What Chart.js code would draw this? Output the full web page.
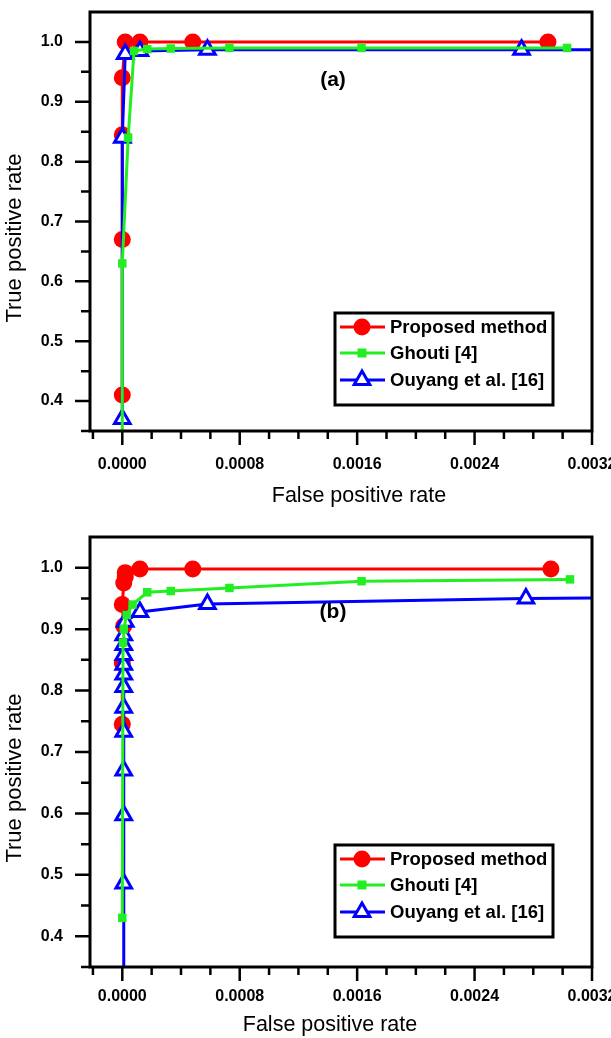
<!DOCTYPE html>
<html>
<head>
<meta charset="utf-8">
<script src="https://cdn.jsdelivr.net/npm/chart.js@4.4.1/dist/chart.umd.min.js"></script>
<style>
  body { margin: 0; background: #fff; }
  .panel { position: absolute; left: 0; width: 611px; }
</style>
</head>
<body>
<div class="panel" style="top:0;height:509px"><canvas id="chartA" width="611" height="509"></canvas></div>
<div class="panel" style="top:509px;height:529px"><canvas id="chartB" width="611" height="529"></canvas></div>
<script>
// series names and axis titles
var seriesNames = ['Proposed method', 'Ghouti [4]', 'Ouyang et al. [16]'];
var xTitle = 'False positive rate';
var yTitle = 'True positive rate';

// panel (a)
var aProposedX = [0, 0, 0, 0, 0.00002, 0.00012, 0.00048, 0.0029];
var aProposedY = [0.41, 0.67, 0.845, 0.94, 1.0, 1.0, 1.0, 1.0];
var aGhoutiX = [0, 0, 0.00004, 0.00008, 0.00017, 0.00033, 0.00073, 0.00163, 0.00303];
var aGhoutiY = [0.30, 0.63, 0.84, 0.985, 0.988, 0.989, 0.99, 0.99, 0.99];
var aOuyangX = [0, 0, 0.00002, 0.00012, 0.00058, 0.00272, 0.0036];
var aOuyangY = [0.37, 0.84, 0.98, 0.985, 0.987, 0.987, 0.987];

// panel (b)
var bProposedX = [0, 0, 0.00001, 0, 0.00001, 0.00002, 0.00002, 0.00012, 0.00048, 0.00292];
var bProposedY = [0.745, 0.845, 0.905, 0.94, 0.975, 0.985, 0.992, 0.998, 0.998, 0.998];
var bGhoutiX = [0, 0.000005, 0.00001, 0.00003, 0.00007, 0.00017, 0.00033, 0.00073, 0.00163, 0.00305];
var bGhoutiY = [0.43, 0.878, 0.9, 0.923, 0.94, 0.96, 0.962, 0.967, 0.978, 0.981];
var bOuyangX = [0.00001, 0.00001, 0.00001, 0.00001, 0.00001, 0.00001, 0.00001, 0.00001, 0.00001, 0.00001, 0.00001, 0.00001, 0.00002, 0.00012, 0.00058, 0.00275, 0.0036];
var bOuyangY = [0.30, 0.486, 0.597, 0.67, 0.733, 0.772, 0.806, 0.826, 0.842, 0.858, 0.874, 0.89, 0.912, 0.928, 0.941, 0.95, 0.951];

// axes
var xTickValues = [0, 0.0008, 0.0016, 0.0024, 0.0032];
var yTickValues = [0.4, 0.5, 0.6, 0.7, 0.8, 0.9, 1.0];

var FONT = 'Arial, "Liberation Sans", sans-serif';
var RED = '#ff0000', GREEN = '#22ee22', BLUE = '#0000ff';

function pts(xs, ys) {
    return xs.map(function (x, i) { return { x: x, y: ys[i] }; });
}

function drawMarker(ctx, style, x, y, color) {
    ctx.save();
    ctx.beginPath();
    if (style === 'circle') {
        ctx.fillStyle = color;
        ctx.arc(x, y, 8.5, 0, Math.PI * 2);
        ctx.fill();
    } else if (style === 'rect') {
        ctx.fillStyle = color;
        ctx.fillRect(x - 4.5, y - 4.5, 9, 9);
    } else {
        var r = 9;
        ctx.moveTo(x, y - r);
        ctx.lineTo(x + r * 0.866, y + r * 0.5);
        ctx.lineTo(x - r * 0.866, y + r * 0.5);
        ctx.closePath();
        ctx.fillStyle = '#fff';
        ctx.fill();
        ctx.lineWidth = 3;
        ctx.strokeStyle = color;
        ctx.stroke();
    }
    ctx.restore();
}

// frame, outward ticks, axis titles, legend box, panel letter
var decorations = {
    id: 'decorations',
    afterDraw: function (chart, args, opts) {
        var ctx = chart.ctx, a = chart.chartArea;
        var xs = chart.scales.x, ys = chart.scales.y;
        ctx.save();
        ctx.strokeStyle = '#000';
        ctx.lineWidth = 3;
        ctx.strokeRect(a.left, a.top, a.right - a.left, a.bottom - a.top);

        ctx.lineWidth = 2.5;
        ctx.beginPath();
        var i, px, len;
        for (i = -1; i <= 16; i++) {
            px = xs.getPixelForValue(i * 0.0002);
            len = (i % 4 === 0) ? 14 : 8;
            ctx.moveTo(px, a.bottom);
            ctx.lineTo(px, a.bottom + len);
        }
        for (i = 7; i <= 20; i++) {
            px = ys.getPixelForValue(i * 0.05);
            len = (i % 2 === 0) ? 15 : 9;
            ctx.moveTo(a.left, px);
            ctx.lineTo(a.left - len, px);
        }
        ctx.stroke();

        ctx.fillStyle = '#000';
        ctx.textAlign = 'center';
        ctx.textBaseline = 'middle';

        // axis titles
        ctx.font = '21.5px ' + FONT;
        ctx.fillText(xTitle, opts.xTitleX, opts.xTitleY);
        ctx.save();
        ctx.translate(15, opts.yTitleY);
        ctx.rotate(-Math.PI / 2);
        ctx.font = '22px ' + FONT;
        ctx.fillText(yTitle, 0, 0);
        ctx.restore();

        // panel letter
        ctx.font = 'bold 21px ' + FONT;
        ctx.fillText(opts.letter, opts.letterX, opts.letterY);

        // legend
        var L = opts.legendLeft, T = opts.legendTop;
        ctx.lineWidth = 3;
        ctx.strokeStyle = '#000';
        ctx.strokeRect(L, T, 218, 92);
        ctx.font = 'bold 18.5px ' + FONT;
        ctx.textAlign = 'left';
        var rows = [14, 40, 67];
        chart.data.datasets.forEach(function (ds, k) {
            var y = T + rows[k];
            ctx.beginPath();
            ctx.strokeStyle = ds.borderColor;
            ctx.lineWidth = 3;
            ctx.moveTo(L + 5, y);
            ctx.lineTo(L + 50, y);
            ctx.stroke();
            drawMarker(ctx, ds.pointStyle, L + 27, y, ds.borderColor);
            ctx.fillStyle = '#000';
            ctx.fillText(ds.label, L + 55, y + 1);
        });
        ctx.restore();
    }
};

function makeChart(id, sets, cfg) {
    var datasets = [
        {
            label: seriesNames[0], data: pts(sets[0], sets[1]),
            borderColor: RED, backgroundColor: RED, borderWidth: 3,
            pointStyle: 'circle', pointRadius: 8.5, pointBorderWidth: 0, order: 3
        },
        {
            label: seriesNames[1], data: pts(sets[2], sets[3]),
            borderColor: GREEN, backgroundColor: GREEN, borderWidth: 3,
            pointStyle: 'rect', pointRadius: 6, pointBorderWidth: 0, order: 1
        },
        {
            label: seriesNames[2], data: pts(sets[4], sets[5]),
            borderColor: BLUE, backgroundColor: '#ffffff', borderWidth: 3,
            pointStyle: 'triangle', pointRadius: 9, pointBorderWidth: 3, order: 2
        }
    ];
    return new Chart(document.getElementById(id), {
        type: 'scatter',
        data: { datasets: datasets },
        plugins: [decorations],
        options: {
            responsive: false,
            animation: false,
            showLine: true,
            elements: { line: { tension: 0 } },
            layout: { padding: { top: cfg.padTop, right: 19, left: 0, bottom: 0 } },
            plugins: {
                legend: { display: false },
                tooltip: { enabled: false },
                decorations: cfg.deco
            },
            scales: {
                x: {
                    type: 'linear', min: -0.00022, max: 0.0032,
                    grid: { display: false, drawTicks: false },
                    border: { display: false },
                    afterBuildTicks: function (s) {
                        s.ticks = xTickValues.map(function (v) { return { value: v }; });
                    },
                    afterFit: function (s) {
                        s.height = cfg.xHeight;
                        s.paddingLeft = 0; s.paddingRight = 0;
                    },
                    ticks: {
                        padding: cfg.xTickPad, color: '#000',
                        font: { family: FONT, size: 16, weight: 'bold' },
                        callback: function (v) { return v.toFixed(4); }
                    }
                },
                y: {
                    type: 'linear', min: 0.35, max: 1.05,
                    grid: { display: false, drawTicks: false },
                    border: { display: false },
                    afterBuildTicks: function (s) {
                        s.ticks = yTickValues.map(function (v) { return { value: v }; });
                    },
                    afterFit: function (s) {
                        s.width = 90;
                        s.paddingTop = 0; s.paddingBottom = 0;
                    },
                    ticks: {
                        padding: 27, color: '#000',
                        font: { family: FONT, size: 16, weight: 'bold' },
                        callback: function (v) { return v.toFixed(1); }
                    }
                }
            }
        }
    });
}

makeChart('chartA', [aProposedX, aProposedY, aGhoutiX, aGhoutiY, aOuyangX, aOuyangY], {
    padTop: 7, xHeight: 78, xTickPad: 24,
    deco: {
        letter: '(a)', letterX: 333, letterY: 80, legendLeft: 335, legendTop: 313,
        xTitleX: 359, xTitleY: 496, yTitleY: 238
    }
});
makeChart('chartB', [bProposedX, bProposedY, bGhoutiX, bGhoutiY, bOuyangX, bOuyangY], {
    padTop: 28, xHeight: 71, xTickPad: 20,
    deco: {
        letter: '(b)', letterX: 333, letterY: 103, legendLeft: 335, legendTop: 336,
        xTitleX: 330, xTitleY: 516, yTitleY: 269
    }
});
</script>
</body>
</html>
